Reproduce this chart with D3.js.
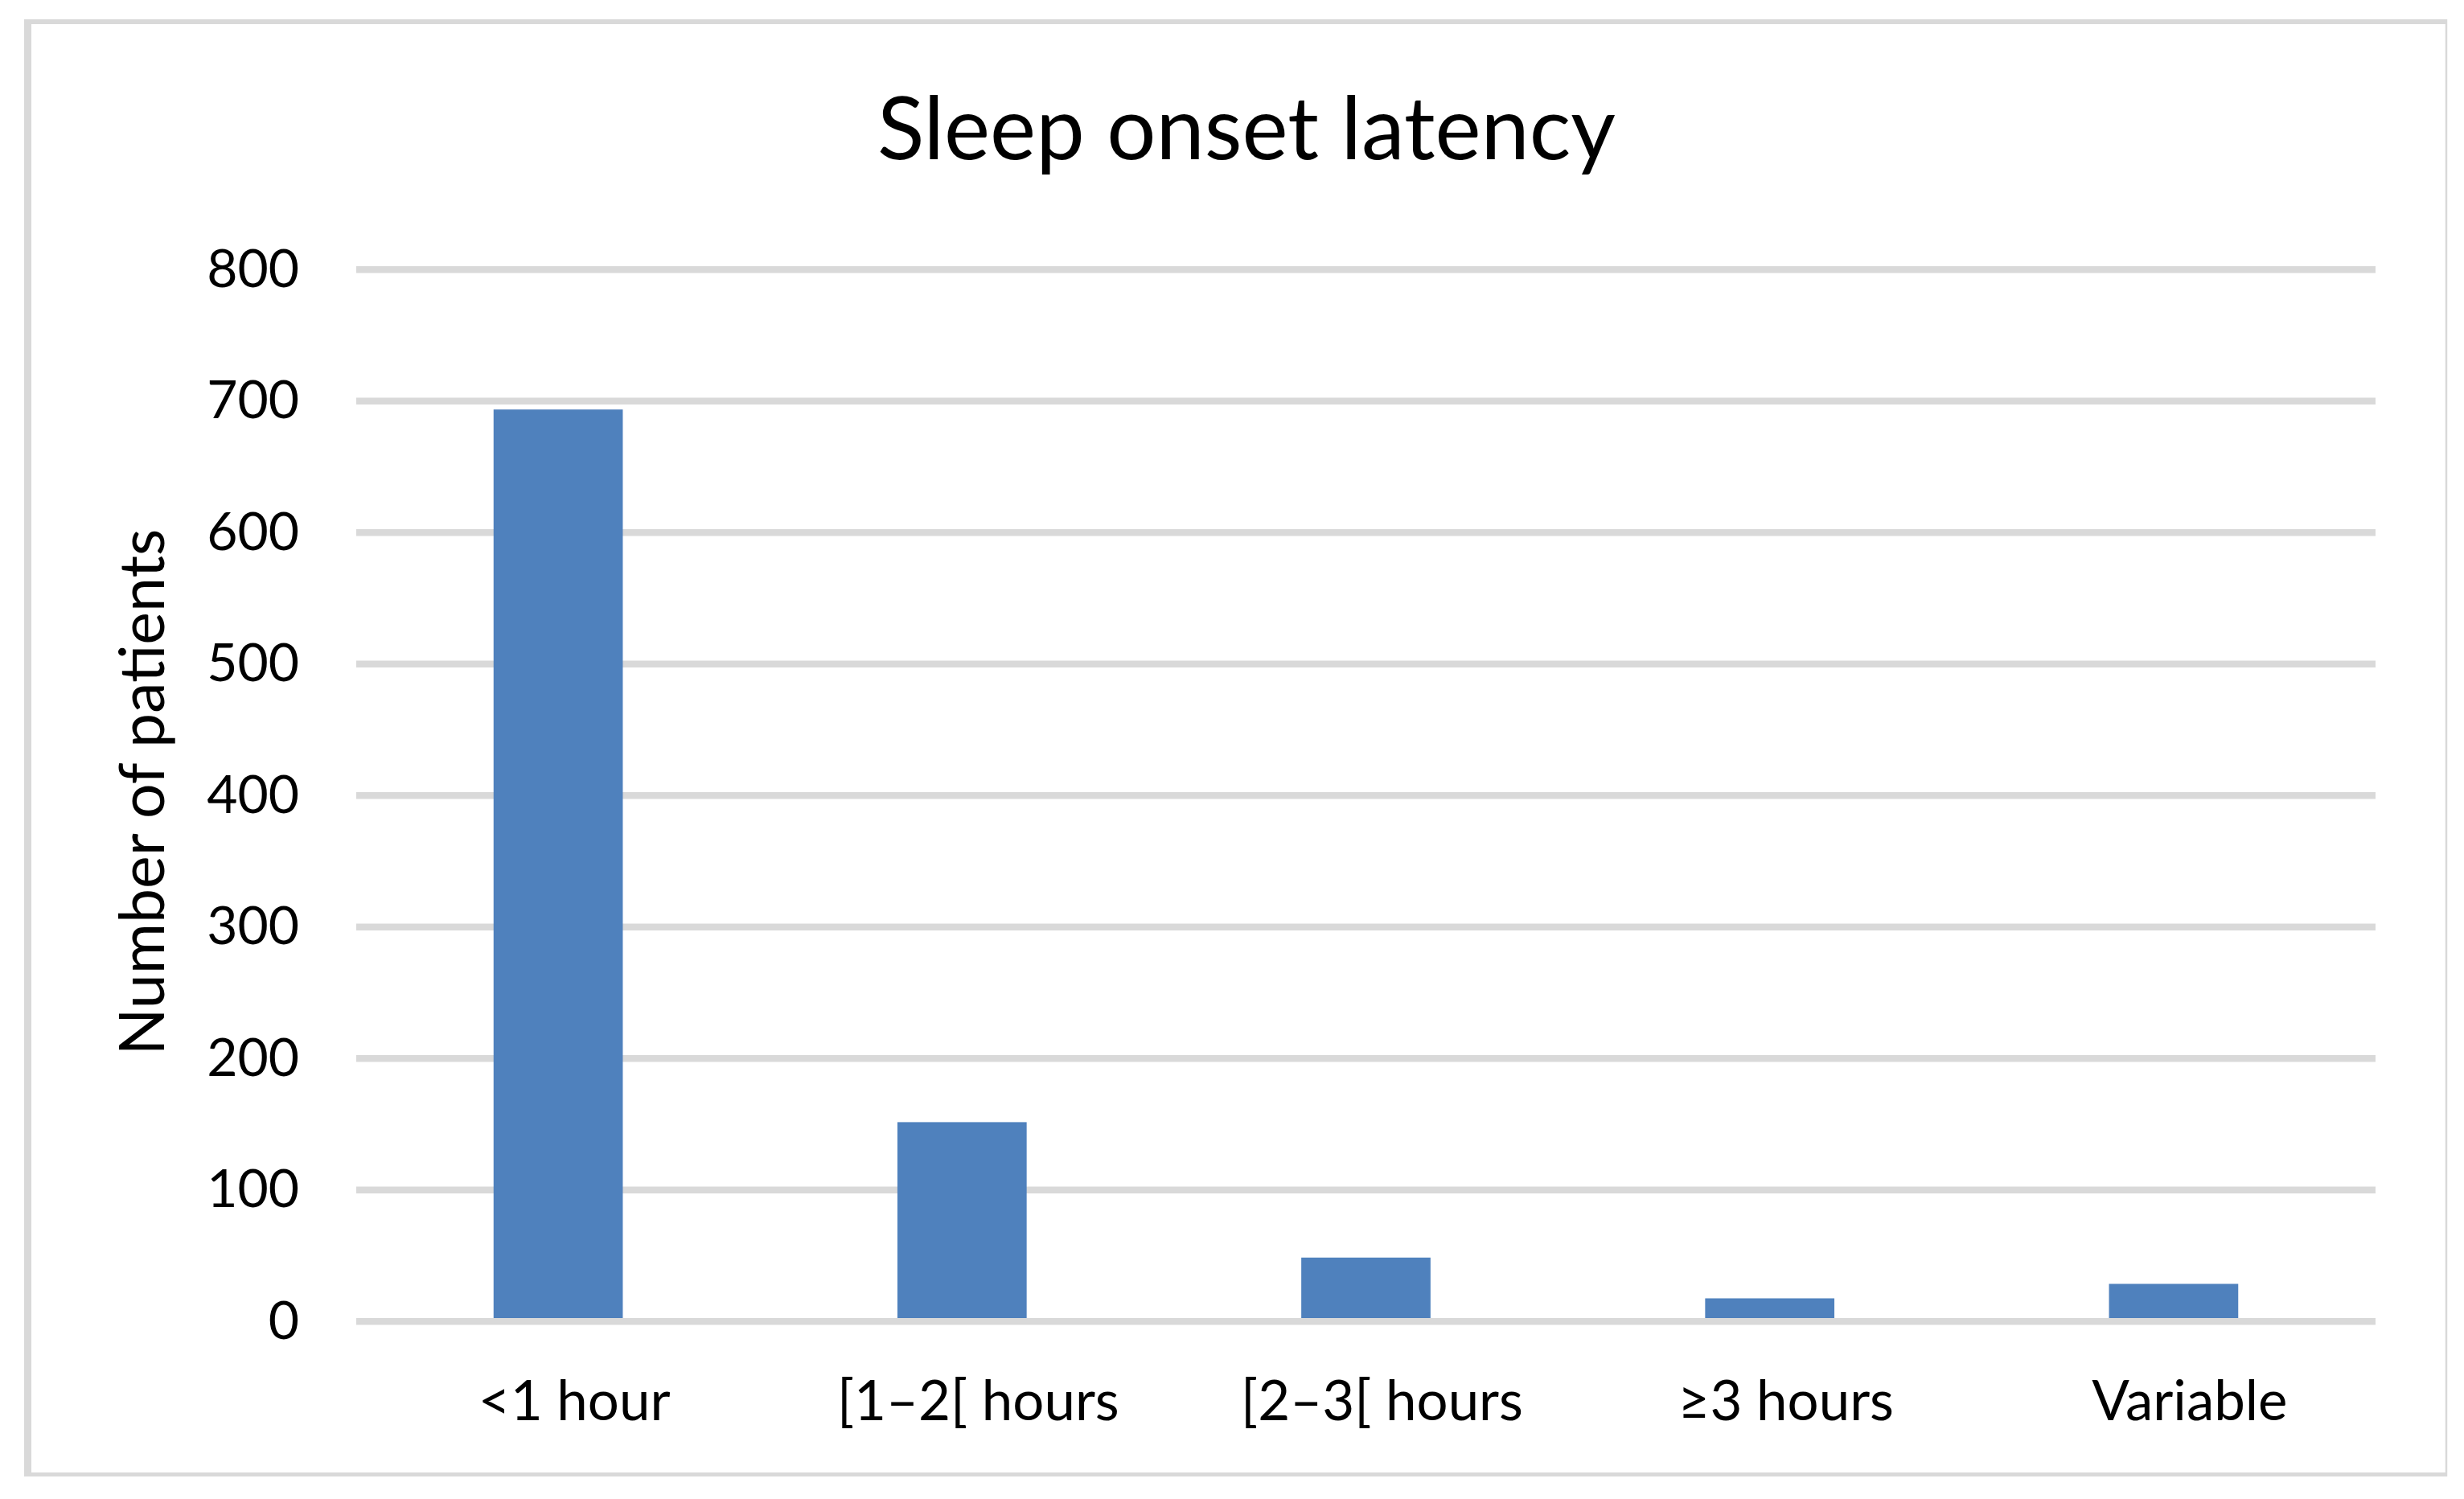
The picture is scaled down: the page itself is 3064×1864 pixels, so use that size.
<!DOCTYPE html>
<html>
<head>
<meta charset="utf-8">
<script src="https://cdn.jsdelivr.net/npm/d3@7"></script>
<style>
  html, body { margin: 0; padding: 0; background: #ffffff; }
  svg { display: block; }
  text { font-family: Lato, "Open Sans", "Noto Sans", sans-serif; fill: #000; }
</style>
</head>
<body>
<svg id="chart" width="3064" height="1864"></svg>
<script>
// ---- data ----
const chartTitle = "Sleep onset latency";
const yAxisTitle = "Number of patients";
const categories = ["<1 hour", "[1\u20132[ hours", "[2\u20133[ hours", "\u22653 hours", "Variable"];
const patients = [691, 149, 46, 15, 26];
const yTicks = [0, 100, 200, 300, 400, 500, 600, 700, 800];

// ---- layout ----
const W = 3064, H = 1864;
const plot = { left: 443, right: 2954, top: 331, bottom: 1639 };
const gridW = 8.5;
const barColor = "#4f81bd";
const gridColor = "#d9d9d9";

const svg = d3.select("#chart");
svg.append("rect").attr("width", W).attr("height", H).attr("fill", "#fff");

// outer frame
const frame = svg.append("g").attr("stroke", gridColor).attr("fill", "none");
frame.append("line").attr("x1", 34.5).attr("x2", 34.5).attr("y1", 24).attr("y2", 1836).attr("stroke-width", 9);
frame.append("line").attr("x1", 30).attr("x2", 3043).attr("y1", 27).attr("y2", 27).attr("stroke-width", 6);
frame.append("line").attr("x1", 30).attr("x2", 3043).attr("y1", 1833.5).attr("y2", 1833.5).attr("stroke-width", 5);
frame.append("line").attr("x1", 3042).attr("x2", 3042).attr("y1", 24).attr("y2", 1836).attr("stroke-width", 2.5);

const x = d3.scaleBand()
  .domain(categories)
  .range([plot.left, plot.right])
  .paddingInner(0.68)
  .paddingOuter(0.34);

const y = d3.scaleLinear()
  .domain([0, 800])
  .range([plot.bottom, plot.top]);

// gridlines
svg.append("g").selectAll("rect")
  .data(yTicks)
  .join("rect")
  .attr("x", plot.left)
  .attr("width", plot.right - plot.left)
  .attr("y", d => y(d))
  .attr("height", gridW)
  .attr("fill", gridColor);

// bars
svg.append("g").selectAll("rect")
  .data(categories)
  .join("rect")
  .attr("x", d => x(d))
  .attr("width", x.bandwidth())
  .attr("y", (d, i) => y(patients[i]))
  .attr("height", (d, i) => y(0) - y(patients[i]))
  .attr("fill", barColor);

// y axis tick labels
const yAxis = d3.axisLeft(y).tickValues(yTicks).tickSize(0).tickPadding(0).tickFormat(d3.format("d"));
const yg = svg.append("g").attr("transform", `translate(372, ${gridW / 2})`).call(yAxis);
yg.select(".domain").remove();
yg.selectAll("text")
  .attr("font-family", "Lato, 'Open Sans', sans-serif")
  .attr("font-size", 66)
  .attr("fill", "#000");

// x axis category labels
const xAxis = d3.axisBottom(x).tickSize(0).tickPadding(0);
const xg = svg.append("g").attr("transform", `translate(20, 0)`).call(xAxis);
xg.select(".domain").remove();
xg.selectAll("text")
  .attr("y", 1766)
  .attr("dy", null)
  .attr("font-family", "Lato, 'Open Sans', sans-serif")
  .attr("font-size", 69)
  .attr("fill", "#000");

// title
svg.append("text")
  .attr("x", 1550)
  .attr("y", 198)
  .attr("text-anchor", "middle")
  .attr("font-size", 108)
  .text(chartTitle);

// y axis title
svg.append("text")
  .attr("transform", `translate(204, ${(plot.top + plot.bottom) / 2}) rotate(-90)`)
  .attr("text-anchor", "middle")
  .attr("font-size", 77)
  .text(yAxisTitle);
</script>
</body>
</html>
